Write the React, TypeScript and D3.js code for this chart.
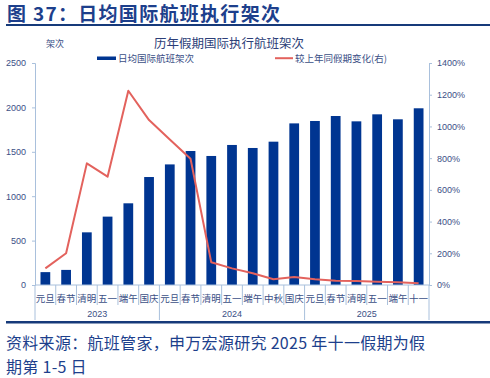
import React, { useEffect, useRef } from "react";
import * as d3 from "d3";

const categories = [
  "元旦", "春节", "清明", "五一", "端午", "国庆",
  "元旦", "春节", "清明", "五一", "端午", "中秋", "国庆",
  "元旦", "春节", "清明", "五一", "端午", "十一",
];
const years = [
  { label: "2023", count: 6 },
  { label: "2024", count: 7 },
  { label: "2025", count: 6 },
];
const flights = [
  145, 170, 593, 770, 920, 1216,
  1358, 1509, 1453, 1577, 1543, 1614, 1820,
  1847, 1903, 1843, 1922, 1866, 1990,
];
const yoy = [
  105, 200, 767, 683, 1225, 1040,
  918, 796, 143, 105, 74, 36, 50,
  36, 27, 25, 21, 17, 11,
];
const leftTicks = [0, 500, 1000, 1500, 2000, 2500];
const rightTicks = [0, 200, 400, 600, 800, 1000, 1200, 1400];

const W = 490, H = 378;
const NAVY = "#003591";
const RED = "#e3625d";
const AXIS = "#a9c0dc";
const TXT = "#3b4f86";
const FONT = "'Liberation Sans', 'Noto Sans CJK SC', sans-serif";
const CJK = "'Noto Sans CJK SC', sans-serif";

export default function App() {
  const ref = useRef<SVGSVGElement>(null);
  useEffect(() => {
    const svg = d3.select(ref.current);
    svg.selectAll("*").remove();
    const left = 35, right = 429, top = 63, bottom = 285;

    // header
    svg.append("text").attr("x", 7).attr("y", 21).attr("font-family", CJK)
      .attr("font-weight", 700).attr("font-size", 19).attr("letter-spacing", 1.3).attr("fill", "#1d3f8c")
      .text("图 37：日均国际航班执行架次");
    svg.append("rect").attr("x", 6).attr("y", 24).attr("width", W - 6).attr("height", 2).attr("fill", "#163a7a");

    const idx = categories.map((_, i) => String(i));
    const x = d3.scaleBand().domain(idx).range([left, right]).paddingInner(0.53).paddingOuter(0.265);
    const xs = d3.scaleBand().domain(idx).range([left, right]);
    const yL = d3.scaleLinear().domain([0, 2500]).range([bottom, top]);
    const yR = d3.scaleLinear().domain([0, 1400]).range([bottom, top]);

    // chart title
    svg.append("text").attr("x", 229).attr("y", 48).attr("text-anchor", "middle")
      .attr("font-family", CJK).attr("font-size", 12.5).attr("fill", "#2c3e78").text("历年假期国际执行航班架次");
    svg.append("text").attr("x", 46).attr("y", 47).attr("font-family", CJK)
      .attr("font-size", 9).attr("fill", TXT).text("架次");

    // legend
    svg.append("rect").attr("x", 97).attr("y", 56.5).attr("width", 19).attr("height", 3.5).attr("fill", NAVY);
    svg.append("text").attr("x", 118).attr("y", 61.5).attr("font-family", CJK).attr("font-size", 9.5)
      .attr("fill", TXT).text("日均国际航班架次");
    svg.append("line").attr("x1", 275).attr("x2", 293).attr("y1", 58.2).attr("y2", 58.2).attr("stroke", RED).attr("stroke-width", 2);
    svg.append("text").attr("x", 295).attr("y", 61.5).attr("font-family", CJK).attr("font-size", 9.5)
      .attr("fill", TXT).text("较上年同假期变化(右)");

    // left axis
    const la = svg.append("g").attr("transform", `translate(${left},0)`)
      .call(d3.axisLeft(yL).tickValues(leftTicks).tickSize(3).tickPadding(6).tickFormat(d3.format("d")));
    la.select(".domain").attr("stroke", AXIS);
    la.selectAll(".tick line").attr("stroke", AXIS);
    la.selectAll("text").attr("font-family", FONT).attr("font-size", 9).attr("fill", TXT);

    const ra = svg.append("g").attr("transform", `translate(${right},0)`)
      .call(d3.axisRight(yR).tickValues(rightTicks).tickSize(3).tickPadding(5).tickFormat((d) => `${d}%`));
    ra.select(".domain").attr("stroke", AXIS);
    ra.selectAll(".tick line").attr("stroke", AXIS);
    ra.selectAll("text").attr("font-family", FONT).attr("font-size", 9).attr("fill", TXT);

    // bars
    svg.append("g").selectAll("rect").data(flights).join("rect")
      .attr("x", (_, i) => x(String(i))!)
      .attr("width", x.bandwidth())
      .attr("y", (d) => yL(d))
      .attr("height", (d) => bottom - yL(d))
      .attr("fill", NAVY);

    // line
    const line = d3.line<number>()
      .x((_, i) => xs(String(i))! + xs.bandwidth() / 2)
      .y((d) => yR(d));
    svg.append("path").datum(yoy).attr("d", line).attr("fill", "none")
      .attr("stroke", RED).attr("stroke-width", 2).attr("stroke-linejoin", "round");

    // x axis
    const xg = svg.append("g");
    xg.append("line").attr("x1", left).attr("x2", right).attr("y1", bottom).attr("y2", bottom).attr("stroke", AXIS);
    categories.forEach((c, i) => {
      const cx = xs(String(i))! + xs.bandwidth() / 2;
      xg.append("text").attr("x", cx).attr("y", 302).attr("text-anchor", "middle")
        .attr("font-family", CJK).attr("font-size", 9.5).attr("fill", TXT).text(c);
    });
    let acc = 0;
    const bounds: number[] = [0];
    years.forEach((yr) => {
      const start = acc;
      acc += yr.count;
      bounds.push(acc);
      const x0 = xs(String(start))!;
      const x1 = xs(String(acc - 1))! + xs.bandwidth();
      xg.append("text").attr("x", (x0 + x1) / 2).attr("y", 317).attr("text-anchor", "middle")
        .attr("font-family", FONT).attr("font-size", 9).attr("fill", TXT).text(yr.label);
    });
    for (let i = 0; i <= categories.length; i++) {
      const bx = i < categories.length ? xs(String(i))! : right;
      const isYear = bounds.includes(i);
      xg.append("line").attr("x1", bx).attr("x2", bx).attr("y1", bottom)
        .attr("y2", isYear ? 320 : 305).attr("stroke", AXIS);
    }

    // footer
    svg.append("rect").attr("x", 6).attr("y", 321).attr("width", W - 6).attr("height", 2.5).attr("fill", "#163a7a");
    svg.append("text").attr("x", 6).attr("y", 349).attr("font-family", CJK).attr("font-size", 16)
      .attr("letter-spacing", 0.3).attr("fill", "#1d3f8c").text("资料来源：航班管家，申万宏源研究  2025 年十一假期为假");
    svg.append("text").attr("x", 6).attr("y", 373).attr("font-family", CJK).attr("font-size", 16)
      .attr("letter-spacing", 0.3).attr("fill", "#1d3f8c").text("期第 1-5 日");
  }, []);
  return (
    <div style={{ position: "absolute", left: 0, top: 0 }}>
      <svg ref={ref} width={W} height={H} style={{ display: "block", background: "#fff" }} />
    </div>
  );
}
